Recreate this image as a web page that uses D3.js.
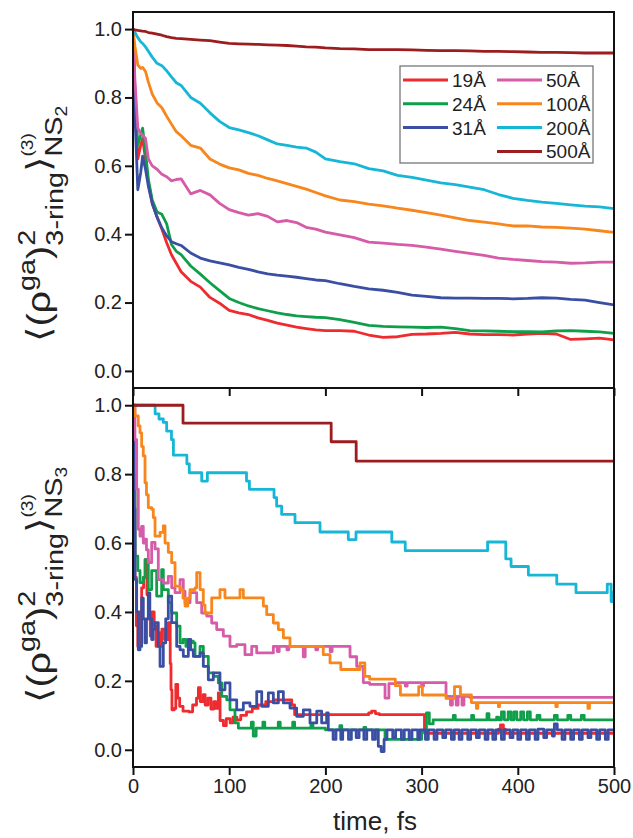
<!DOCTYPE html>
<html>
<head>
<meta charset="utf-8">
<script src="https://cdn.jsdelivr.net/npm/d3@7"></script>
<style>
  body { margin: 0; background: #fff; }
  svg text { font-family: "Liberation Sans", Arial, "DejaVu Sans", sans-serif; fill: #222; }
</style>
</head>
<body>
<script>
// series names + colours
const sizes = ["19Å", "24Å", "31Å", "50Å", "100Å", "200Å", "500Å"];
const colors = ["#ee2b2e", "#0f9f4b", "#3a4fa3", "#d65ba8", "#f7861d", "#16b6d6", "#9c1d20"];

// top panel (NS2): shared time grid, fs
const timeNs2 = [0, 2, 5, 8, 10, 13, 16, 20, 25, 30, 35, 40, 45, 50, 60, 70, 80, 90, 100, 110, 120, 130, 140, 150, 160, 170, 180, 190, 200, 215, 230, 245, 260, 275, 290, 305, 320, 335, 350, 365, 380, 395, 410, 425, 440, 455, 470, 485, 500];

const ns2_19 = [1.0, 0.8, 0.62, 0.66, 0.68, 0.62, 0.55, 0.49, 0.45, 0.415, 0.375, 0.34, 0.315, 0.29, 0.262, 0.245, 0.215, 0.198, 0.177, 0.17, 0.165, 0.155, 0.148, 0.14, 0.134, 0.128, 0.124, 0.12, 0.118, 0.118, 0.116, 0.105, 0.098, 0.1, 0.107, 0.108, 0.11, 0.113, 0.108, 0.106, 0.106, 0.105, 0.108, 0.11, 0.108, 0.092, 0.094, 0.096, 0.091];
const ns2_24 = [1.0, 0.82, 0.66, 0.69, 0.71, 0.64, 0.56, 0.5, 0.465, 0.458, 0.43, 0.37, 0.35, 0.34, 0.307, 0.283, 0.258, 0.235, 0.212, 0.2, 0.19, 0.182, 0.176, 0.17, 0.165, 0.161, 0.159, 0.157, 0.156, 0.15, 0.142, 0.133, 0.13, 0.129, 0.128, 0.127, 0.128, 0.124, 0.118, 0.117, 0.116, 0.115, 0.115, 0.114, 0.117, 0.118, 0.116, 0.114, 0.11];
const ns2_31 = [1.0, 0.75, 0.53, 0.58, 0.628, 0.59, 0.54, 0.49, 0.45, 0.418, 0.395, 0.378, 0.372, 0.367, 0.345, 0.33, 0.322, 0.316, 0.31, 0.303, 0.297, 0.29, 0.284, 0.28, 0.277, 0.274, 0.27, 0.266, 0.264, 0.255, 0.247, 0.24, 0.236, 0.23, 0.222, 0.218, 0.214, 0.213, 0.213, 0.212, 0.212, 0.211, 0.212, 0.214, 0.213, 0.209, 0.207, 0.2, 0.193];
const ns2_50 = [1.0, 0.85, 0.71, 0.695, 0.69, 0.68, 0.62, 0.6, 0.59, 0.575, 0.568, 0.556, 0.56, 0.562, 0.518, 0.528, 0.515, 0.49, 0.472, 0.463, 0.456, 0.46, 0.452, 0.436, 0.44, 0.434, 0.42, 0.415, 0.406, 0.398, 0.39, 0.377, 0.374, 0.37, 0.367, 0.362, 0.356, 0.35, 0.344, 0.338, 0.33, 0.326, 0.323, 0.32, 0.318, 0.315, 0.316, 0.318, 0.318];
const ns2_100 = [1.0, 0.95, 0.895, 0.885, 0.888, 0.876, 0.845, 0.81, 0.784, 0.77, 0.745, 0.722, 0.7, 0.688, 0.66, 0.652, 0.62, 0.605, 0.594, 0.588, 0.578, 0.572, 0.563, 0.556, 0.548, 0.54, 0.532, 0.522, 0.512, 0.5, 0.495, 0.488, 0.483, 0.476, 0.47, 0.463, 0.456, 0.448, 0.44, 0.435, 0.43, 0.424, 0.424, 0.421, 0.42, 0.418, 0.415, 0.41, 0.405];
const ns2_200 = [1.0, 0.99, 0.975, 0.963, 0.958, 0.948, 0.935, 0.918, 0.9, 0.893, 0.878, 0.86, 0.843, 0.835, 0.8, 0.783, 0.755, 0.73, 0.712, 0.705, 0.697, 0.688, 0.676, 0.664, 0.66, 0.655, 0.652, 0.64, 0.62, 0.612, 0.606, 0.592, 0.585, 0.572, 0.566, 0.558, 0.55, 0.545, 0.538, 0.53, 0.516, 0.505, 0.499, 0.494, 0.49, 0.486, 0.482, 0.48, 0.475];
const ns2_500 = [1.0, 0.998, 0.996, 0.995, 0.994, 0.993, 0.99, 0.988, 0.985, 0.982, 0.978, 0.975, 0.973, 0.972, 0.97, 0.968, 0.966, 0.962, 0.958, 0.957, 0.956, 0.955, 0.954, 0.953, 0.952, 0.95, 0.948, 0.947, 0.945, 0.943, 0.942, 0.94, 0.94, 0.94, 0.939, 0.938, 0.937, 0.937, 0.936, 0.935, 0.935, 0.934, 0.933, 0.932, 0.932, 0.931, 0.93, 0.93, 0.93];

// bottom panel (NS3): step data, [time fs, value]
const ns3_19 = [[0,1.0],[1,0.75],[2,0.5],[3.5,0.36],[5,0.3],[7,0.4],[9,0.47],[11,0.5],[12.8,0.552],[14.5,0.45],[16,0.38],[18,0.33],[20,0.4],[22,0.36],[24,0.3],[26,0.34],[28,0.3],[30,0.35],[33,0.32],[36.7,0.369],[38.7,0.25],[39.5,0.174],[40.5,0.116],[43,0.12],[44.5,0.19],[46.5,0.15],[48.5,0.126],[52,0.112],[58,0.11],[62,0.13],[66,0.15],[68,0.18],[70,0.14],[73,0.16],[75,0.13],[78,0.15],[81,0.118],[84,0.14],[86,0.12],[88.7,0.165],[90.5,0.085],[94,0.07],[97,0.09],[101,0.078],[104,0.095],[108,0.087],[112,0.1],[118,0.11],[124,0.12],[130,0.13],[138,0.14],[146,0.145],[158,0.145],[165,0.13],[168,0.102],[245,0.107],[248,0.112],[252,0.105],[256,0.102],[303,0.048],[380,0.06],[382,0.072],[385,0.06],[387,0.048],[500,0.048]];
const ns3_24 = [[0,1.0],[1,0.8],[2.1,0.562],[5,0.52],[7.3,0.485],[10.7,0.5],[12.5,0.552],[15.9,0.465],[19.4,0.52],[24.6,0.446],[29.8,0.523],[31.5,0.465],[36.7,0.427],[40.2,0.397],[45.4,0.359],[48.9,0.31],[52,0.32],[55,0.3],[58,0.315],[62.7,0.31],[64.5,0.271],[69.7,0.3],[73.1,0.271],[78.3,0.223],[83.5,0.213],[88.7,0.194],[92.2,0.155],[97.4,0.145],[100.8,0.116],[106,0.078],[109.5,0.063],[123,0.08],[125,0.04],[128,0.063],[135,0.08],[137,0.063],[151,0.08],[153,0.063],[166,0.08],[168,0.063],[185,0.075],[187,0.063],[200,0.058],[215,0.07],[217,0.058],[240,0.065],[242,0.058],[262,0.03],[300,0.055],[305,0.107],[308,0.075],[312,0.087],[333,0.1],[335,0.087],[352,0.1],[354,0.087],[368,0.105],[370,0.087],[378,0.095],[380,0.087],[383,0.11],[386,0.087],[390,0.11],[393,0.087],[396,0.11],[399,0.087],[403,0.11],[406,0.087],[410,0.11],[413,0.087],[420,0.1],[423,0.087],[438,0.1],[441,0.087],[452,0.1],[455,0.087],[466,0.1],[469,0.087],[500,0.085]];
const ns3_31 = [[0,1.0],[1,0.7],[2.1,0.494],[3.8,0.4],[5.5,0.29],[7.3,0.3],[9,0.44],[10.7,0.38],[12.5,0.31],[14,0.38],[15.9,0.455],[17.5,0.38],[19.4,0.32],[21,0.35],[22.9,0.369],[26.3,0.3],[28.1,0.242],[31.5,0.31],[34,0.38],[36.7,0.446],[40.2,0.369],[45.4,0.3],[48.9,0.29],[52.3,0.271],[57.5,0.32],[60,0.29],[62.7,0.271],[69.7,0.281],[73.1,0.242],[78.3,0.203],[83.5,0.223],[90.4,0.174],[95.6,0.194],[100.8,0.145],[107.8,0.116],[114.7,0.136],[121.6,0.126],[128.6,0.169],[133.8,0.126],[140.7,0.165],[145.9,0.136],[151.1,0.169],[156.3,0.136],[163.2,0.121],[170.1,0.097],[177.1,0.116],[184,0.078],[191,0.112],[196.1,0.078],[201.3,0.107],[203,0.058],[208,0.03],[211,0.058],[216,0.03],[218,0.058],[224,0.03],[227,0.058],[232,0.035],[235,0.058],[240,0.03],[243,0.058],[249,0.03],[252,0.058],[255,0.01],[258,-0.005],[261,0.03],[264,0.058],[270,0.035],[273,0.058],[279,0.03],[282,0.058],[287,0.03],[290,0.058],[296,0.03],[298,0.058],[304,0.03],[307,0.058],[313,0.03],[316,0.058],[322,0.035],[325,0.058],[331,0.03],[334,0.058],[339,0.03],[342,0.058],[348,0.03],[351,0.058],[357,0.035],[360,0.058],[366,0.03],[369,0.058],[374,0.03],[377,0.058],[383,0.03],[386,0.058],[392,0.035],[395,0.058],[400,0.03],[403,0.058],[409,0.03],[412,0.058],[418,0.03],[421,0.06],[427,0.035],[430,0.058],[436,0.04],[438,0.075],[441,0.058],[446,0.03],[449,0.058],[455,0.03],[458,0.058],[464,0.03],[467,0.058],[473,0.035],[476,0.058],[482,0.03],[485,0.058],[491,0.03],[494,0.058],[500,0.058]];
const ns3_50 = [[0,1.0],[2,0.9],[3.8,0.756],[5.5,0.64],[7.3,0.62],[9,0.648],[10.7,0.6],[12.5,0.611],[14,0.58],[15.9,0.543],[19.4,0.602],[22.9,0.583],[26.3,0.494],[31.5,0.484],[36.7,0.503],[40.2,0.47],[43.7,0.456],[48.9,0.494],[52.3,0.46],[54.1,0.427],[59.3,0.456],[66.2,0.427],[71.4,0.397],[76.6,0.388],[81.8,0.368],[87,0.349],[93.9,0.33],[100.8,0.3],[107.8,0.305],[116.4,0.276],[123.4,0.3],[128.6,0.281],[145.9,0.3],[150,0.285],[152,0.3],[160,0.29],[162,0.3],[177,0.27],[179,0.3],[190,0.29],[192,0.3],[205,0.285],[207,0.3],[225.6,0.27],[232.5,0.242],[239.4,0.195],[246,0.19],[262,0.15],[266,0.192],[273,0.195],[283,0.185],[285,0.195],[300,0.185],[302,0.195],[325.4,0.155],[330,0.13],[332,0.155],[336,0.13],[338,0.155],[342,0.13],[344,0.155],[350,0.152],[500,0.152]];
const ns3_100 = [[0,1.0],[2,0.969],[5.5,0.94],[7.3,0.92],[9,0.88],[10.7,0.853],[12.5,0.775],[14,0.74],[15.9,0.703],[19.4,0.698],[21.1,0.674],[22.9,0.62],[28.1,0.631],[31.5,0.65],[33.3,0.6],[36.7,0.573],[40.2,0.543],[43.7,0.475],[48.9,0.465],[52,0.44],[54.1,0.417],[57,0.44],[59.3,0.465],[64.5,0.47],[66.2,0.514],[69.7,0.465],[73.1,0.42],[74.9,0.397],[81.8,0.441],[90.4,0.465],[95.6,0.441],[111.2,0.465],[114.7,0.441],[135.5,0.417],[139,0.392],[145.9,0.368],[151.1,0.349],[156.3,0.325],[163.2,0.3],[197.8,0.276],[204.8,0.252],[216,0.233],[230,0.233],[236,0.252],[241,0.213],[246,0.205],[272.7,0.186],[278,0.159],[297,0.183],[300.8,0.159],[325.4,0.149],[334.2,0.183],[340.4,0.159],[351.8,0.137],[357,0.12],[358.5,0.137],[379.8,0.125],[381,0.137],[439.5,0.125],[441,0.137],[472.9,0.12],[474.5,0.137],[500,0.137]];
const ns3_200 = [[0,1.0],[23,0.975],[27,0.96],[31.5,0.95],[35,0.925],[40,0.9],[42,0.855],[56,0.83],[58.5,0.804],[71.4,0.78],[77.3,0.804],[118,0.78],[121,0.756],[146.6,0.732],[149.3,0.707],[154.5,0.683],[168.4,0.659],[194.4,0.632],[223.8,0.61],[231.8,0.632],[269,0.603],[283,0.578],[368.6,0.603],[387.5,0.554],[393,0.532],[411,0.507],[440.5,0.481],[460.5,0.456],[493,0.481],[497,0.43],[498.5,0.456],[500,0.456]];
const ns3_500 = [[0,1.0],[52,0.948],[206,0.894],[232,0.838],[500,0.838]];

const xTicks = [0, 100, 200, 300, 400, 500];
const yTicks = [0.0, 0.2, 0.4, 0.6, 0.8, 1.0];

const W = 633, H = 838;
const left = 133, right = 614;
const panels = [
  { top: 12, bottom: 388, sub: "2", labelY: 224,
    series: [ns2_19, ns2_24, ns2_31, ns2_50, ns2_100, ns2_200, ns2_500].map(v => v.map((d, i) => [timeNs2[i], d])),
    curve: d3.curveLinear },
  { top: 388, bottom: 767, sub: "3", labelY: 585,
    series: [ns3_19, ns3_24, ns3_31, ns3_50, ns3_100, ns3_200, ns3_500],
    curve: d3.curveStepAfter }
];

const svg = d3.select("body").append("svg")
  .attr("width", W)
  .attr("height", H);

const x = d3.scaleLinear().domain([0, 500]).range([left, right]);

panels.forEach((p, pi) => {
  const y = d3.scaleLinear().domain([-0.05, 1.05]).range([p.bottom, p.top]);

  const clipId = "clip" + pi;
  svg.append("clipPath").attr("id", clipId)
    .append("rect")
    .attr("x", left).attr("y", p.top)
    .attr("width", right - left).attr("height", p.bottom - p.top);

  const line = d3.line()
    .x(d => x(d[0]))
    .y(d => y(d[1]))
    .curve(p.curve);

  svg.append("g")
    .attr("clip-path", `url(#${clipId})`)
    .selectAll("path")
    .data(p.series)
    .enter()
    .append("path")
    .attr("d", line)
    .attr("fill", "none")
    .attr("stroke", (d, i) => colors[i])
    .attr("stroke-width", 2.8)
    .attr("stroke-linejoin", "round");

  // y axis
  const ya = svg.append("g")
    .attr("transform", `translate(${left},0)`)
    .call(d3.axisLeft(y).tickValues(yTicks).tickFormat(d3.format(".1f")).tickSize(8).tickPadding(3));
  ya.select(".domain").remove();
  ya.selectAll("line").attr("stroke", "#111").attr("stroke-width", 2);
  ya.selectAll("text").style("font-size", "20px").attr("fill", "#222");

  // frame
  svg.append("rect")
    .attr("x", left).attr("y", p.top)
    .attr("width", right - left).attr("height", p.bottom - p.top)
    .attr("fill", "none")
    .attr("stroke", "#111")
    .attr("stroke-width", 2);

  // y label
  const lab = svg.append("text")
    .attr("transform", `translate(50,${p.labelY}) rotate(-90) scale(1.2,1)`)
    .attr("text-anchor", "middle");
  lab.append("tspan").style("font-size", "33px").text("⟨(ρ");
  lab.append("tspan").style("font-size", "24px").attr("dy", -15).text("ga");
  lab.append("tspan").style("font-size", "33px").attr("dy", 15).text(")");
  lab.append("tspan").style("font-size", "24px").attr("dy", -15).text("2");
  lab.append("tspan").style("font-size", "24px").attr("dx", -13.3).attr("dy", 28).text("3-ring");
  lab.append("tspan").style("font-size", "33px").attr("dy", -13).text("⟩");
  lab.append("tspan").style("font-size", "16px").attr("dy", -17).text("(3)");
  lab.append("tspan").style("font-size", "24px").attr("dx", -19.6).attr("dy", 29).text("NS");
  lab.append("tspan").style("font-size", "16px").attr("dy", 5).text(p.sub);
});

// x ticks along the middle border
const xm = svg.append("g")
  .attr("transform", "translate(0,388)")
  .call(d3.axisBottom(x).tickValues(xTicks).tickSize(8).tickFormat(""));
xm.select(".domain").remove();
xm.selectAll("line").attr("stroke", "#111").attr("stroke-width", 2);

// bottom x axis
const xa = svg.append("g")
  .attr("transform", "translate(0,767)")
  .call(d3.axisBottom(x).tickValues(xTicks).tickSize(8).tickPadding(4));
xa.select(".domain").remove();
xa.selectAll("line").attr("stroke", "#111").attr("stroke-width", 2);
xa.selectAll("text").style("font-size", "20px").attr("fill", "#222");

svg.append("text")
  .attr("x", 375).attr("y", 830)
  .attr("text-anchor", "middle")
  .style("font-size", "26px")
  .text("time, fs");

// legend
const lg = svg.append("g");
lg.append("rect")
  .attr("x", 400).attr("y", 66)
  .attr("width", 193).attr("height", 97)
  .attr("fill", "#fff")
  .attr("stroke", "#777")
  .attr("stroke-width", 1.3);

const legendPos = [[0, 0], [0, 1], [0, 2], [1, 0], [1, 1], [1, 2], [1, 3]];
sizes.forEach((s, i) => {
  const [c, r] = legendPos[i];
  const lx = c === 0 ? 403 : 497;
  const ly = 80 + r * 23.8;
  lg.append("line")
    .attr("x1", lx).attr("x2", lx + 45)
    .attr("y1", ly).attr("y2", ly)
    .attr("stroke", colors[i])
    .attr("stroke-width", 3);
  lg.append("text")
    .attr("x", lx + 49).attr("y", ly + 7)
    .style("font-size", "19px")
    .text(s);
});
</script>
</body>
</html>
